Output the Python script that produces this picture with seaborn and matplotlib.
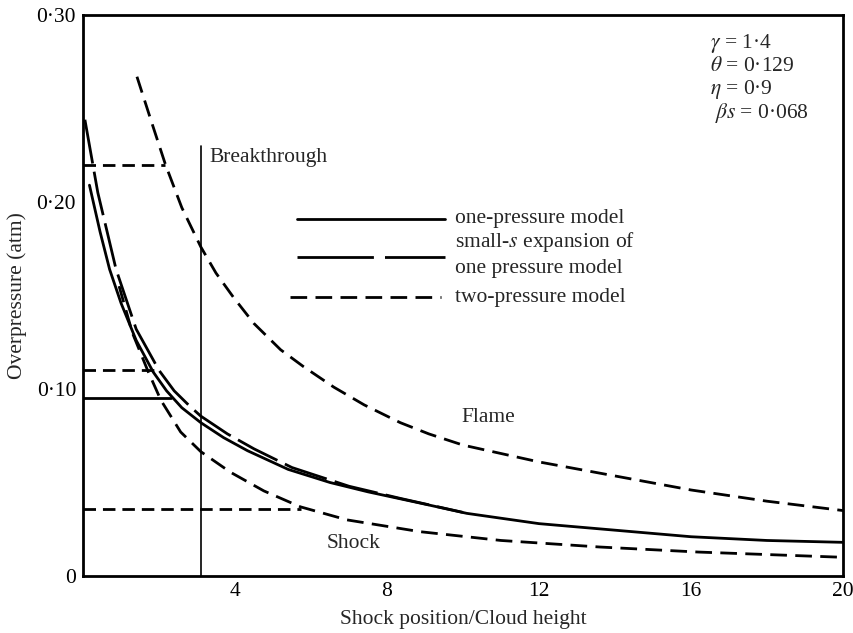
import numpy as np
import pandas as pd
import matplotlib
matplotlib.use("Agg")
import matplotlib.pyplot as plt
import seaborn as sns

# values (x = shock position / cloud height, y = atm)
flame_two_x = [1.42, 1.8, 2.17, 2.6, 3.1, 3.5, 3.96, 4.5, 5.2, 5.8, 6.6, 7.4, 8.35,
               9.1, 10, 12, 14, 16, 18, 20]
flame_two_y = [0.267, 0.243, 0.220, 0.197, 0.176, 0.162, 0.149, 0.135, 0.121, 0.112,
               0.101, 0.0915, 0.082, 0.076, 0.070, 0.061, 0.0535, 0.046, 0.040, 0.035]

shock_two_x = [0.95, 1.3, 1.70, 2.05, 2.57, 3.1, 3.88, 4.76, 5.72, 6.95, 8.87,
               11, 13.6, 16.2, 20]
shock_two_y = [0.155, 0.130, 0.110, 0.094, 0.077, 0.0665, 0.0555, 0.0455, 0.037,
               0.030, 0.0237, 0.019, 0.0155, 0.0128, 0.010]

one_x = [0.17, 0.45, 0.70, 1.0, 1.4, 1.85, 2.2, 2.6, 3.1, 3.7, 4.33, 5.4, 6.5,
         7.5, 8.87, 10.1, 12, 14, 16, 18, 20]
one_y = [0.209, 0.184, 0.164, 0.146, 0.126, 0.109, 0.099, 0.090, 0.082, 0.074,
         0.067, 0.057, 0.050, 0.045, 0.039, 0.0335, 0.028, 0.0245, 0.021, 0.019, 0.018]

small_s_x = [0.05, 0.39, 0.87, 1.4, 2.0, 2.4, 2.8, 3.1, 3.8, 4.5, 5.5, 7.0, 8.35, 10.0]
small_s_y = [0.244, 0.205, 0.164, 0.132, 0.110, 0.099, 0.091, 0.0855, 0.076,
             0.068, 0.058, 0.048, 0.0415, 0.034]

# constant-pressure segments before the curves take over
plateau_y = [0.22, 0.11, 0.095, 0.036]
plateau_end = [2.17, 2.0, 2.31, 5.75]
plateau_model = ["two", "two", "one", "two"]

breakthrough_x = 3.1
breakthrough_top = 0.23

params = ["$\\gamma$ = 1·4", "$\\theta$ = 0·129", "$\\eta$ = 0·9", " $\\beta s$ = 0·068"]

x_ticks = [4, 8, 12, 16, 20]
y_ticks = [0, 0.10, 0.20, 0.30]
y_tick_labels = ["0", "0·10", "0·20", "0·30"]

# line styles
LW = 2.0
TWO_DASH = (0, (6, 3))
SMALL_S_DASH = (0, (16, 3))
PLATEAU_DASH = {"two": (0, (4.5, 2.5)), "one": "-"}

sns.set_style("white")
plt.rcParams["font.family"] = ["Liberation Serif", "DejaVu Serif"]
plt.rcParams["mathtext.fontset"] = "stix"
plt.rcParams["font.size"] = 15.5

fig = plt.figure(figsize=(8.54, 6.33), dpi=100)
ax = fig.add_axes([83 / 854, 1 - 576 / 633, 760 / 854, 561 / 633])

curves = [
    (flame_two_x, flame_two_y, TWO_DASH),
    (shock_two_x, shock_two_y, TWO_DASH),
    (one_x, one_y, "-"),
    (small_s_x, small_s_y, SMALL_S_DASH),
]
for xs, ys, ls in curves:
    df = pd.DataFrame({"x": xs, "y": ys})
    sns.lineplot(data=df, x="x", y="y", ax=ax, color="black", lw=LW,
                 linestyle=ls, estimator=None, legend=False)

for py, xe, model in zip(plateau_y, plateau_end, plateau_model):
    df = pd.DataFrame({"x": [0, xe], "y": [py, py]})
    sns.lineplot(data=df, x="x", y="y", ax=ax, color="black", lw=LW,
                 linestyle=PLATEAU_DASH[model], estimator=None, legend=False)

ax.plot([breakthrough_x, breakthrough_x], [0, breakthrough_top], color="black", lw=1.2)
ax.text(breakthrough_x + 0.23, 0.224, "Breakthrough", va="center", ha="left")

ax.text(9.97, 0.0845, "Flame", va="center", ha="left")
ax.text(6.42, 0.0176, "Shock", va="center", ha="left")

# hand-drawn key
key_x0, key_x1, text_x = 5.63, 9.53, 9.79
ax.plot([key_x0, key_x1], [0.191, 0.191], color="black", lw=LW)
ax.text(text_x, 0.191, "one-pressure model", va="center", ha="left")
ax.plot([key_x0, key_x1], [0.1706, 0.1706], color="black", lw=LW,
        linestyle=(0, (27.5, 4)))
ax.text(text_x, 0.1786, "small-$s$ expansion of", va="center", ha="left")
ax.text(text_x, 0.1647, "one pressure model", va="center", ha="left")
ax.plot([5.45, key_x1 - 0.1], [0.149, 0.149], color="black", lw=LW, linestyle=TWO_DASH)
ax.text(text_x, 0.149, "two-pressure model", va="center", ha="left")

for i, s in enumerate(params):
    ax.text(16.5, 0.2845 - i * 0.0123, s, va="center", ha="left")

ax.set_xlim(0, 20)
ax.set_ylim(0, 0.30)
ax.set_xticks(x_ticks)
ax.set_xticks([2, 6, 10, 14, 18], minor=True)
ax.set_yticks(y_ticks)
ax.set_yticklabels(y_tick_labels)
ax.set_yticks([0.05, 0.15, 0.25], minor=True)
ax.tick_params(which="both", direction="in", length=6, width=1.2, colors="black",
               labelsize=15.5)
ax.tick_params(axis="x", pad=4)
ax.tick_params(axis="y", pad=5)

ax.set_xlabel("Shock position/Cloud height", labelpad=7)
ax.set_ylabel("Overpressure (atm)", labelpad=7)

for sp in ax.spines.values():
    sp.set_visible(True)
    sp.set_color("black")
    sp.set_linewidth(2.0)

fig.savefig("out.png", dpi=100, facecolor="white")
